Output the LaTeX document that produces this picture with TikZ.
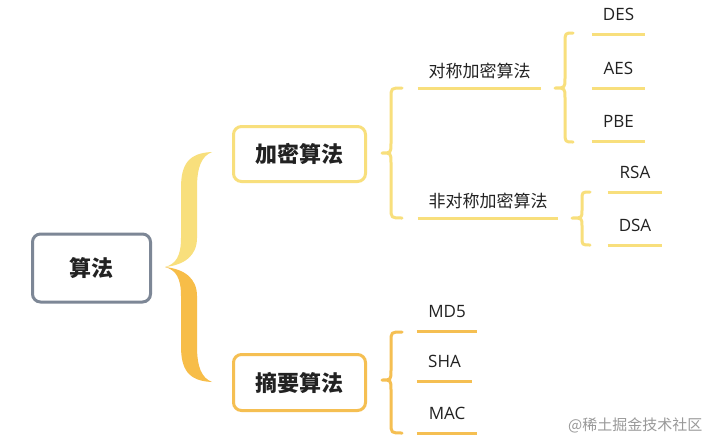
\documentclass[tikz,border=0pt]{standalone}
\usepackage{fontspec}
\setmainfont{Noto Sans CJK SC}
\newfontfamily\latinfont{Open Sans}
\definecolor{rootc}{HTML}{7D8796}
\definecolor{yel}{HTML}{F8DF7C}
\definecolor{ora}{HTML}{F5BF52}
\definecolor{bigora}{HTML}{F7BD48}
\definecolor{txt}{HTML}{222222}
\newcommand\mybrace[8]{%
  \draw[#8,line width=3pt,line cap=round,line join=round]
    (#3,#4) .. controls (#2,#4) .. (#2,#4+#7) -- (#2,#5-#7)
    .. controls (#2,#5) .. (#1,#5) .. controls (#2,#5) .. (#2,#5+#7)
    -- (#2,#6-#7) .. controls (#2,#6) .. (#3,#6);}
\tikzset{
  mainbox/.style={draw, rounded corners=8pt, line width=3pt, fill=white,
    text=txt, font=\fontsize{22}{22}\selectfont\bfseries},
  leaf/.style={anchor=south, inner xsep=0pt, inner ysep=0pt, text=txt,
    font=\latinfont\fontsize{17}{17}\selectfont, text depth=13pt},
  cjkleaf/.style={anchor=south, inner xsep=0pt, inner ysep=0pt, text=txt,
    font=\fontsize{17}{17}\selectfont, text depth=10pt},
  uline/.style={line width=3pt},
}
\begin{document}
\begin{tikzpicture}[x=1pt,y=-1pt]
\useasboundingbox[fill=white] (0,0) rectangle (705,437);

% big brace
\fill[yel] (212,152) .. controls (188,153) and (181,165) .. (181,188) -- (181,238)
  .. controls (181,256) and (176,264) .. (165,267)
  .. controls (184,265) and (197,256) .. (197,238) -- (197,188)
  .. controls (197,166) and (202,156) .. (212,152) -- cycle;
\fill[bigora] (212,382) .. controls (188,381) and (181,369) .. (181,346) -- (181,296)
  .. controls (181,278) and (176,270) .. (165,267)
  .. controls (184,269) and (197,278) .. (197,296) -- (197,346)
  .. controls (197,368) and (202,378) .. (212,382) -- cycle;

% boxes
\node[mainbox, draw=rootc, minimum width=118pt, minimum height=68pt] (root) at (91.5,268) {算法};
\node[mainbox, draw=yel, minimum width=132pt, minimum height=55pt] (enc) at (299.5,154) {加密算法};
\node[mainbox, draw=ora, minimum width=132pt, minimum height=56pt] (dig) at (299.5,382.5) {摘要算法};

% second-level braces
\mybrace{382}{391}{402}{88}{153}{218}{10}{yel}
\mybrace{382}{391}{402}{332}{380}{433}{10}{ora}
\mybrace{555}{565}{573}{33}{88}{142}{10}{yel}
\mybrace{572}{582}{590}{192}{218}{245}{8}{yel}

% encryption labels
\node[cjkleaf, minimum width=123pt] (sym) at (479.5,88) {对称加密算法};
\draw[uline, yel] (sym.south west) -- (sym.south east);
\node[cjkleaf, minimum width=140pt] (asym) at (488,218) {非对称加密算法};
\draw[uline, yel] (asym.south west) -- (asym.south east);

% leaves
\node[leaf, minimum width=53pt] (des) at (618.5,34) {DES};
\draw[uline, yel] (des.south west) -- (des.south east);
\node[leaf, minimum width=53pt] (aes) at (618.5,88) {AES};
\draw[uline, yel] (aes.south west) -- (aes.south east);
\node[leaf, minimum width=53pt] (pbe) at (618.5,141) {PBE};
\draw[uline, yel] (pbe.south west) -- (pbe.south east);
\node[leaf, minimum width=54pt] (rsa) at (635,192) {RSA};
\draw[uline, yel] (rsa.south west) -- (rsa.south east);
\node[leaf, minimum width=54pt] (dsa) at (635,245) {DSA};
\draw[uline, yel] (dsa.south west) -- (dsa.south east);

\node[leaf, minimum width=60pt] (md5) at (447,331) {MD5};
\draw[uline, ora] (md5.south west) -- (md5.south east);
\node[leaf, minimum width=55pt] (sha) at (444.5,381) {SHA};
\draw[uline, ora] (sha.south west) -- (sha.south east);
\node[leaf, minimum width=60pt] (mac) at (447,433) {MAC};
\draw[uline, ora] (mac.south west) -- (mac.south east);

% watermark
\node[anchor=west, text=black!40, font=\fontsize{15}{15}\selectfont, inner sep=0pt] (wm) at (568,425) {@稀土掘金技术社区};
\end{tikzpicture}
\end{document}
